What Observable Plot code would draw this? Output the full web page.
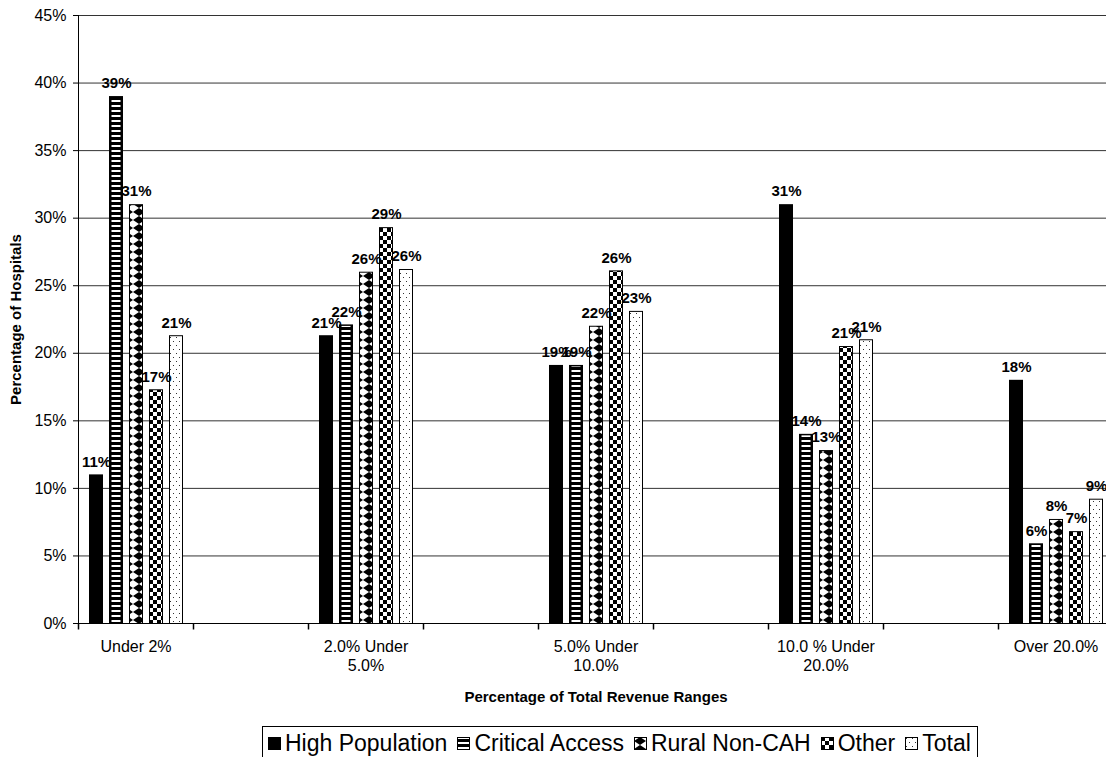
<!DOCTYPE html>
<html>
<head>
<meta charset="utf-8">
<script src="https://cdn.jsdelivr.net/npm/d3@7"></script>
<script src="https://cdn.jsdelivr.net/npm/@observablehq/plot@0.6"></script>
<style>
  html, body { margin: 0; padding: 0; background: #fff; overflow: hidden; }
  body { width: 1106px; height: 757px; position: relative; font-family: "Liberation Sans", Arial, sans-serif; }
  #chart { position: absolute; left: 0; top: 0; }
  #chart svg { overflow: hidden; }
  [aria-label="y-axis label"], [aria-label="fx-axis label"] { font-weight: bold; font-size: 15px; }
  #legend { position: absolute; left: 262px; top: 726px; border: 1px solid #000; padding: 3px 6px 12px 5px;
    display: flex; align-items: center; font-size: 23px; color: #000; white-space: nowrap; background: #fff; }
  #legend .item { display: flex; align-items: center; margin-right: 10px; }
  #legend .item:last-child { margin-right: 0; }
  #legend svg { margin-right: 4px; }
</style>
</head>
<body>
<svg width="0" height="0" style="position:absolute">
  <defs>
    <pattern id="pHP" width="4" height="4" patternUnits="userSpaceOnUse">
      <rect width="4" height="4" fill="#000"/>
    </pattern>
    <pattern id="pCA" width="4" height="5" patternUnits="userSpaceOnUse">
      <rect width="4" height="5" fill="#000"/>
      <rect y="0" width="4" height="2" fill="#fff"/>
    </pattern>
    <pattern id="pRNC" width="12" height="8" patternUnits="userSpaceOnUse">
      <rect width="12" height="8" fill="#fff"/>
      <polygon points="6,0 12,4 6,8 0,4" fill="#000"/>
    </pattern>
    <pattern id="pOther" width="8" height="8" patternUnits="userSpaceOnUse">
      <rect width="8" height="8" fill="#fff"/>
      <rect x="0" y="0" width="4" height="4" fill="#000"/>
      <rect x="4" y="4" width="4" height="4" fill="#000"/>
    </pattern>
    <pattern id="pTotal" width="6" height="8" patternUnits="userSpaceOnUse">
      <rect width="6" height="8" fill="#fff"/>
      <rect x="1" y="1" width="1" height="1" fill="#333"/>
      <rect x="4" y="5" width="1" height="1" fill="#333"/>
    </pattern>
  </defs>
</svg>
<div id="chart"></div>
<div id="legend"></div>
<script>
// ---- data ----
const categories = ["Under 2%", "2.0% Under\n5.0%", "5.0% Under\n10.0%", "10.0 % Under\n20.0%", "Over 20.0%"];
const series = ["High Population", "Critical Access", "Rural Non-CAH", "Other", "Total"];
const highPopulation = [11.0, 21.3, 19.1, 31.0, 18.0];
const criticalAccess = [39.0, 22.1, 19.1, 14.0, 5.9];
const ruralNonCAH   = [31.0, 26.0, 22.0, 12.8, 7.7];
const other         = [17.3, 29.3, 26.1, 20.5, 6.8];
const total         = [21.3, 26.2, 23.1, 21.0, 9.2];
const yTicks = [0, 5, 10, 15, 20, 25, 30, 35, 40, 45];
const patterns = ["url(#pHP)", "url(#pCA)", "url(#pRNC)", "url(#pOther)", "url(#pTotal)"];

const valuesBySeries = [highPopulation, criticalAccess, ruralNonCAH, other, total];
const data = [];
categories.forEach((c, i) => series.forEach((s, j) => data.push({cat: c, series: s, value: valuesBySeries[j][i]})));

// category slots: real categories alternate with empty gap slots (as in the source chart)
const fxDomain = [];
categories.forEach((c, i) => { fxDomain.push(c); if (i < categories.length - 1) fxDomain.push("\u200Bgap" + i); });

const tickSymbol = { draw(ctx) { ctx.moveTo(0, 0); ctx.lineTo(0, 6); } };

const chart = Plot.plot({
  width: 1106,
  height: 720,
  marginLeft: 77,
  marginRight: -8,
  marginTop: 15,
  marginBottom: 97,
  style: { fontFamily: "'Liberation Sans', Arial, sans-serif", fontSize: "16px", color: "#000", background: "#fff" },
  fx: { domain: fxDomain, padding: 0 },
  x: { domain: series, paddingInner: 0.3, paddingOuter: 0.4, axis: null },
  y: { domain: [0, 45], axis: null },
  color: { domain: series, range: patterns },
  marks: [
    Plot.ruleY(yTicks.filter(d => d > 0), { stroke: "#333", strokeWidth: 1 }),
    Plot.barY(data, { fx: "cat", x: "series", y: "value", fill: "#000" }),
    Plot.barY(data, { filter: d => d.series === "Critical Access", fx: "cat", x: "series", y: "value", fill: "series", insetLeft: 2.5, insetRight: 2.5, insetTop: 1.5 }),
    Plot.barY(data, { filter: d => d.series !== "Critical Access" && d.series !== "High Population", fx: "cat", x: "series", y: "value", fill: "series", insetLeft: 1, insetRight: 1, insetTop: 1 }),
    Plot.ruleY([0], { stroke: "#000" }),
    Plot.dot(fxDomain, { fx: d => d, frameAnchor: "bottom-left", symbol: tickSymbol, stroke: "#000", fill: "none", r: 3 }),
    Plot.frame({ anchor: "left", facetAnchor: "left", stroke: "#000" }),
    Plot.text(data, { fx: "cat", x: "series", y: "value", text: d => Math.round(d.value) + "%", dy: -13, fontWeight: "bold", fontSize: 15, fill: "#000" }),
    Plot.axisY({ ticks: yTicks, tickFormat: d => d + "%", tickSize: 5, tickPadding: 7, fontSize: 16,
      label: "Percentage of Hospitals", labelArrow: "none", labelAnchor: "center", labelOffset: 68 }),
    Plot.axisFx({ anchor: "bottom", tickSize: 0, tickPadding: 15, lineHeight: 1.2, fontSize: 16,
      tickFormat: d => categories.includes(d) ? d : "",
      label: "Percentage of Total Revenue Ranges", labelAnchor: "center", labelOffset: 78 })
  ]
});
document.getElementById("chart").appendChild(chart);

// legend
const legend = document.getElementById("legend");
series.forEach((s, i) => {
  const item = document.createElement("div");
  item.className = "item";
  item.innerHTML = `<svg width="13" height="13"><rect x="0.5" y="0.5" width="12" height="12" fill="${patterns[i]}" stroke="#000"/></svg><span>${s}</span>`;
  legend.appendChild(item);
});
</script>
</body>
</html>
